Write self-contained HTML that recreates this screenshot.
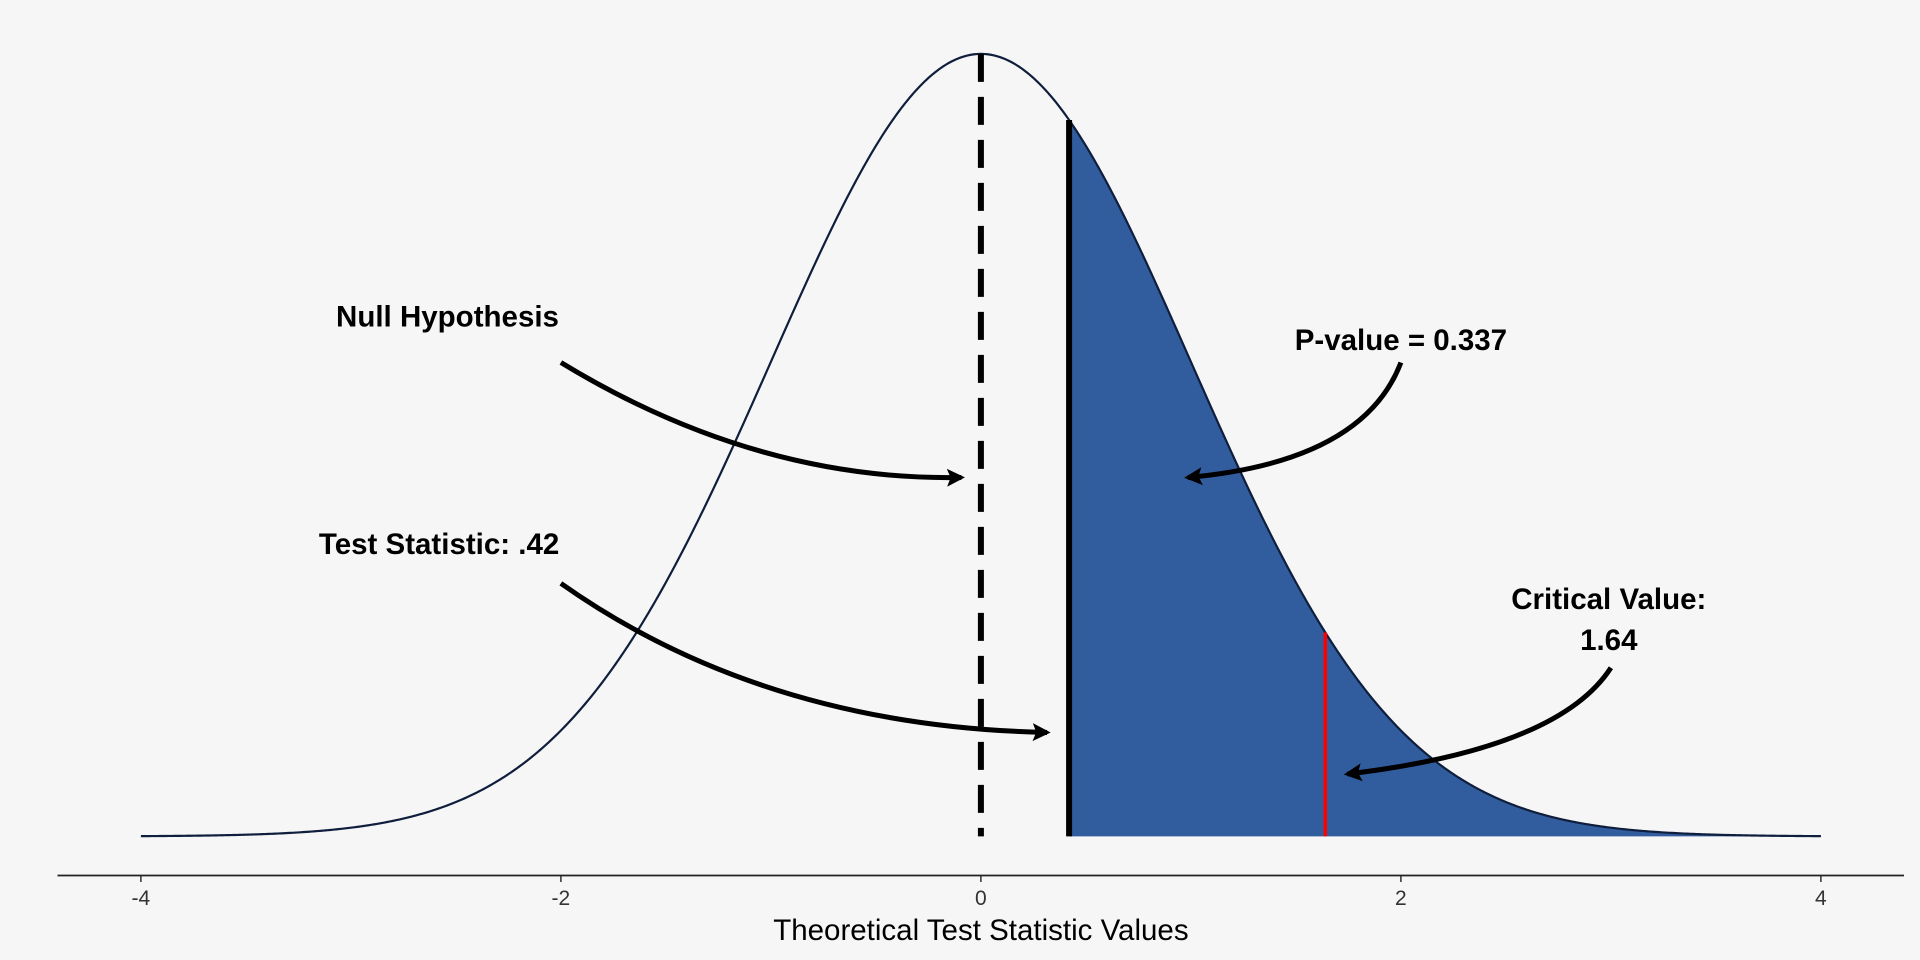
<!DOCTYPE html>
<html><head><meta charset="utf-8">
<style>
html,body{margin:0;padding:0;background:#f7f6f6;}
svg{display:block;font-family:"Liberation Sans",Arial,sans-serif;}
</style></head>
<body>
<svg id="chart" width="1920" height="960" viewBox="0 0 1920 960">
<rect x="0" y="0" width="1920" height="960" fill="#f7f6f6"/>
<defs>
<marker id="ah" viewBox="0 0 10 10" refX="8" refY="5" markerWidth="3.6" markerHeight="3.6" orient="auto">
<path d="M0,0 L10,5 L0,10 L2,5 z" fill="#000"/>
</marker>
</defs>
<g id="g"></g>
</svg>
<script>
const xTicks=[-4,-2,0,2,4];
const tickLabels=["-4","-2","0","2","4"];
const testStat=[0.42];
const criticalValue=[1.64];
const annotations=[
 {name:"null-hypothesis",lines:["Null Hypothesis"],lx:-2.54,ly:0.265,sx:-2.0,sy:0.2416,cx:-1.07,cy:0.181,ex:-0.093,ey:0.183},
 {name:"test-statistic",lines:["Test Statistic: .42"],lx:-2.58,ly:0.149,sx:-2.0,sy:0.129,cx:-1.035,cy:0.056,ex:0.315,ey:0.053},
 {name:"p-value",lines:["P-value = 0.337"],lx:2.0,ly:0.253,sx:2.0,sy:0.2416,cx:1.82,cy:0.191,ex:0.985,ey:0.183},
 {name:"critical-value",lines:["Critical Value:","1.64"],lx:2.99,ly:0.121,sx:3.0,sy:0.086,cx:2.75,cy:0.0446,ex:1.745,ey:0.0318}
];
const NS="http://www.w3.org/2000/svg";
const g=document.getElementById('g');
const X=v=>980.9+v*210;
const Y=d=>836.4-d/0.39894*782.5;
const dn=x=>Math.exp(-x*x/2)/Math.sqrt(2*Math.PI);
function mk(t,a,p){const e=document.createElementNS(NS,t);for(const k in a)e.setAttribute(k,a[k]);(p||g).appendChild(e);return e;}
let f=`M${X(testStat[0])},${Y(0)}`;
for(let x=testStat[0];x<=4.0001;x+=0.01)f+=` L${X(x)},${Y(dn(x))}`;
f+=` L${X(4)},${Y(0)} Z`;
const fill=mk('path',{d:f,fill:'#315d9e'});


let c='';
for(let x=-4;x<=4.0001;x+=0.01)c+=(c?' L':'M')+X(x)+','+Y(dn(x));
const curve=mk('path',{d:c,fill:'none',stroke:'#0f1e3c','stroke-width':2.2});


const nl=mk('line',{x1:X(0),x2:X(0),y1:Y(dn(0)),y2:Y(0),stroke:'#000','stroke-width':6,'stroke-dasharray':'28 15'});


const tl=mk('line',{x1:X(testStat[0]),x2:X(testStat[0]),y1:Y(dn(testStat[0])),y2:Y(0),stroke:'#000','stroke-width':6});


const cl=mk('line',{x1:X(criticalValue[0]),x2:X(criticalValue[0]),y1:Y(dn(criticalValue[0])),y2:Y(0),stroke:'#ff0000','stroke-width':3.5});


const ax=mk('line',{x1:57.5,x2:1904,y1:875.5,y2:875.5,stroke:'#222','stroke-width':1.8});


xTicks.forEach((t,i)=>{
 const tk=mk('line',{x1:X(t),x2:X(t),y1:875.5,y2:882,stroke:'#222','stroke-width':1.4});
 
 
 const lb=mk('text',{x:X(t),y:905,'text-anchor':'middle','font-size':21,fill:'#333'});
 lb.textContent=tickLabels[i];
 
 
});
const tt=mk('text',{x:X(0),y:940,'text-anchor':'middle','font-size':29.5,fill:'#000'});
tt.textContent='Theoretical Test Statistic Values';


annotations.forEach(a=>{
 const p=mk('path',{d:`M${X(a.sx)},${Y(a.sy)} Q${X(a.cx)},${Y(a.cy)} ${X(a.ex)},${Y(a.ey)}`,fill:'none',stroke:'#000','stroke-width':5,'marker-end':'url(#ah)'});
 
 
 a.lines.forEach((l,i)=>{
  const t=mk('text',{x:X(a.lx),y:Y(a.ly)+i*41+10,'text-anchor':'middle','font-size':29.5,'font-weight':'bold',fill:'#000'});
  t.textContent=l;
  
  
 });
});
</script>
</body></html>
